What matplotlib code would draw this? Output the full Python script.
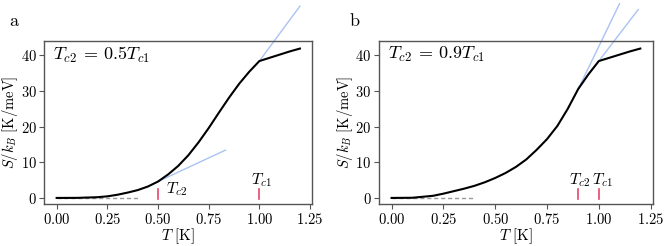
import numpy as np
import matplotlib
matplotlib.use("Agg")
import matplotlib.pyplot as plt

plt.rcParams["font.family"] = ["cmr10", "DejaVu Serif"]
plt.rcParams["mathtext.fontset"] = "cm"
plt.rcParams["axes.formatter.use_mathtext"] = True
plt.rcParams["axes.unicode_minus"] = False

# temperature grid (K)
T = [0.0, 0.1, 0.2, 0.25, 0.3, 0.35, 0.4, 0.45, 0.5, 0.55, 0.6, 0.65,
     0.7, 0.75, 0.8, 0.85, 0.9, 0.95, 1.0, 1.05, 1.1, 1.15, 1.2]

# entropy S/k_B for Tc2 = 0.5 Tc1
S_a = [0.0, 0.02, 0.2, 0.45, 0.9, 1.5, 2.2, 3.2, 4.6, 6.6, 9.0, 12.0,
       15.6, 19.6, 23.9, 28.1, 32.0, 35.4, 38.4, 39.3, 40.2, 41.1, 41.9]

# entropy S/k_B for Tc2 = 0.9 Tc1
S_b = [0.0, 0.05, 0.6, 1.2, 1.9, 2.6, 3.4, 4.4, 5.6, 7.0, 8.7, 10.8,
       13.5, 16.5, 20.2, 25.0, 30.5, 34.7, 38.4, 39.3, 40.2, 41.1, 41.9]

# light-blue guide lines: (x0, x1, y0, slope)
guides_a = [(0.5, 0.833, 4.6, 26.5), (1.0, 1.2, 38.4, 77.0)]
guides_b = [(0.9, 1.1, 30.5, 120.0), (0.9, 1.19, 30.8, 76.0)]

panels = [
    ("a", S_a, 0.5, guides_a, r"$T_{c2}\:=\:0.5T_{c1}$"),
    ("b", S_b, 0.9, guides_b, r"$T_{c2}\:=\:0.9T_{c1}$"),
]

fig = plt.figure(figsize=(6.64, 2.46), dpi=100)
ax_pos = [[0.067, 0.17, 0.403, 0.663], [0.571, 0.17, 0.412, 0.663]]

for i, (tag, S, tc2, guides, title) in enumerate(panels):
    ax = fig.add_axes(ax_pos[i])
    for x0, x1, y0, k in guides:
        xs = np.array([x0, x1])
        ax.plot(xs, y0 + k * (xs - x0), color="#a9c3f2", lw=1.0,
                clip_on=False, zorder=1)
    ax.plot([0, 0.4], [0, 0], color="#999999", lw=1.0, ls=(0, (3, 2)), zorder=2)
    ax.plot(T, S, color="black", lw=1.5, zorder=3)
    ax.set_xlim(-0.06, 1.26)
    ax.set_ylim(-1.75, 44.0)

    # red markers at the critical temperatures
    for tc in (tc2, 1.0):
        ax.plot([tc, tc], [-0.4, 2.6], color="#e8456b", lw=1.2, zorder=4)
    if tag == "a":
        ax.text(0.54, 2.4, r"$T_{c2}$", fontsize=11.5, ha="left", va="center")
        ax.text(1.012, 5.0, r"$T_{c1}$", fontsize=11.5, ha="center", va="center")
    else:
        ax.text(0.905, 5.0, r"$T_{c2}$", fontsize=11.5, ha="center", va="center")
        ax.text(1.015, 5.0, r"$T_{c1}$", fontsize=11.5, ha="center", va="center")

    ax.text(0.033, 0.915, title, transform=ax.transAxes, fontsize=13,
            ha="left", va="center")
    ax.set_xticks([0.0, 0.25, 0.5, 0.75, 1.0, 1.25])
    ax.set_yticks([0, 10, 20, 30, 40])
    ax.tick_params(labelsize=10.5, length=3.5, width=0.8, color="#555555", pad=2)
    for sp in ax.spines.values():
        sp.set_color("#555555")
        sp.set_linewidth(1.0)
    ax.set_xlabel(r"$T\ [\mathrm{K}]$", fontsize=11, labelpad=0)
    ax.set_ylabel(r"$S/k_B\ [\mathrm{K/meV}]$", fontsize=10.5, labelpad=0.5)

fig.text(0.02, 0.915, "a", fontsize=13, ha="center", va="center")
fig.text(0.534, 0.915, "b", fontsize=13, ha="center", va="center")

fig.savefig("out.png", dpi=100)
